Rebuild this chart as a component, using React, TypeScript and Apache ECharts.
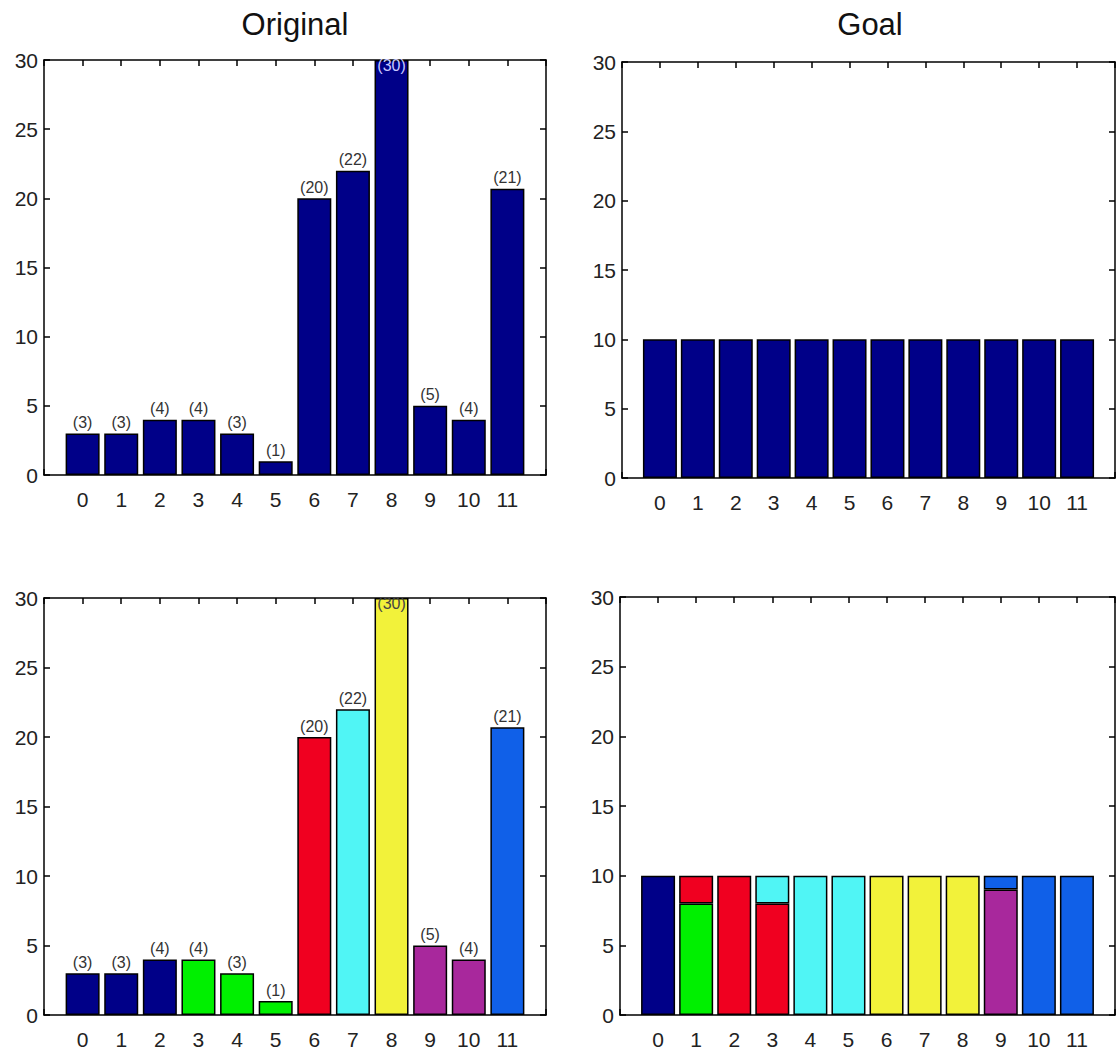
import React, { useEffect, useRef } from "react";
import * as echarts from "echarts";

const categories = ["0", "1", "2", "3", "4", "5", "6", "7", "8", "9", "10", "11"];
const originalValues = [3, 3, 4, 4, 3, 1, 20, 22, 30, 5, 4, 20.7];
const originalLabels = ["(3)", "(3)", "(4)", "(4)", "(3)", "(1)", "(20)", "(22)", "(30)", "(5)", "(4)", "(21)"];
const goalValues = [10, 10, 10, 10, 10, 10, 10, 10, 10, 10, 10, 10];
const originalColorIdx = [0, 0, 0, 1, 1, 1, 2, 3, 4, 5, 5, 6];
const palette = ["#000088", "#00f000", "#f00020", "#50f5f5", "#f2f23a", "#a8289c", "#1060e8"];
// stacked goal parts per colour (null = absent)
const goalNavy = [10, null, null, null, null, null, null, null, null, null, null, null];
const goalGreen = [null, 8, null, null, null, null, null, null, null, null, null, null];
const goalRed = [null, 2, 10, 8, null, null, null, null, null, null, null, null];
const goalCyan = [null, null, null, 2, 10, 10, null, null, null, null, null, null];
const goalYellow = [null, null, null, null, null, null, 10, 10, 10, null, null, null];
const goalPurple = [null, null, null, null, null, null, null, null, null, 9, null, null];
const goalBlue = [null, null, null, null, null, null, null, null, null, 1, 10, 10];
const goalStack = [goalNavy, goalGreen, goalRed, goalCyan, goalYellow, goalPurple, goalBlue];

const FONT = "Liberation Sans, Arial, sans-serif";
// padded axis: an empty slot at each end
const axisCats = ["", ...categories, ""];
const pad = (arr: any[]) => [null, ...arr, null];

export default function App() {
  const ref = useRef<HTMLDivElement>(null);
  useEffect(() => {
    const chart = echarts.init(ref.current!, null, { renderer: "svg" });
    const grids = [
      { left: 44, top: 60, width: 502, height: 415 },
      { left: 622, top: 62, width: 502, height: 416 },
      { left: 44, top: 598, width: 502, height: 417 },
      { left: 620, top: 597, width: 504, height: 418 },
    ];
    const xAxis: any[] = [];
    const yAxis: any[] = [];
    grids.forEach((_, g) => {
      const common = {
        gridIndex: g, type: "category", data: axisCats, boundaryGap: false,
        axisLine: { onZero: false, lineStyle: { color: "#000", width: 1.5 } },
        axisTick: { inside: true, length: 6, interval: 0, lineStyle: { color: "#000", width: 1.5 } },
        splitLine: { show: false },
      };
      xAxis.push({
        ...common, position: "bottom",
        axisLabel: { margin: 14, interval: 0, fontSize: 21, color: "#222", fontFamily: FONT },
      });
      xAxis.push({ ...common, position: "top", axisLabel: { show: false } });
      const ycommon = {
        gridIndex: g, type: "value", min: 0, max: 30, interval: 5,
        axisLine: { show: true, onZero: false, lineStyle: { color: "#000", width: 1.5 } },
        axisTick: { show: true, inside: true, length: 6, lineStyle: { color: "#000", width: 1.5 } },
        splitLine: { show: false },
      };
      yAxis.push({ ...ycommon, position: "left", axisLabel: { margin: 6, fontSize: 21, color: "#222", fontFamily: FONT } });
      yAxis.push({ ...ycommon, position: "right", axisLabel: { show: false } });
    });
    const barBase = { type: "bar", barWidth: 34, itemStyle: { borderColor: "#000", borderWidth: 1.5 } };
    const labelled = (g: number, colorFor: (i: number) => string, lblColor: string, topLblColor: string) => ({
      ...barBase,
      xAxisIndex: g * 2, yAxisIndex: g * 2,
      data: pad(originalValues.map((v, i) => ({
        value: v,
        itemStyle: { color: colorFor(i) },
        label: {
          show: true,
          formatter: originalLabels[i],
          position: v >= 30 ? "insideTop" : "top",
          distance: 3,
          offset: v >= 30 ? [0, -6] : [0, 0],
          color: v >= 30 ? topLblColor : lblColor,
          fontSize: 16, fontFamily: FONT,
        },
      }))),
    });
    const series: any[] = [
      labelled(0, () => palette[0], "#333", "#c8c8ff"),
      {
        ...barBase, xAxisIndex: 2, yAxisIndex: 2,
        itemStyle: { color: palette[0], borderColor: "#000", borderWidth: 1.5 },
        data: pad(goalValues),
      },
      labelled(2, (i) => palette[originalColorIdx[i]], "#333", "#444"),
      ...goalStack.map((arr, c) => ({
        ...barBase, xAxisIndex: 6, yAxisIndex: 6, stack: "goal",
        itemStyle: { color: palette[c], borderColor: "#000", borderWidth: 1.5 },
        data: pad(arr),
      })),
    ];
    chart.setOption({
      animation: false,
      backgroundColor: "#fff",
      title: [
        { text: "Original", left: 290, top: 4, textAlign: "center", textStyle: { fontSize: 31, fontWeight: "normal", color: "#111", fontFamily: FONT } },
        { text: "Goal", left: 865, top: 4, textAlign: "center", textStyle: { fontSize: 31, fontWeight: "normal", color: "#111", fontFamily: FONT } },
      ],
      grid: grids,
      xAxis, yAxis, series,
    });
    return () => chart.dispose();
  }, []);
  return <div ref={ref} style={{ position: "absolute", left: 0, top: 0, width: 1118, height: 1057 }} />;
}
